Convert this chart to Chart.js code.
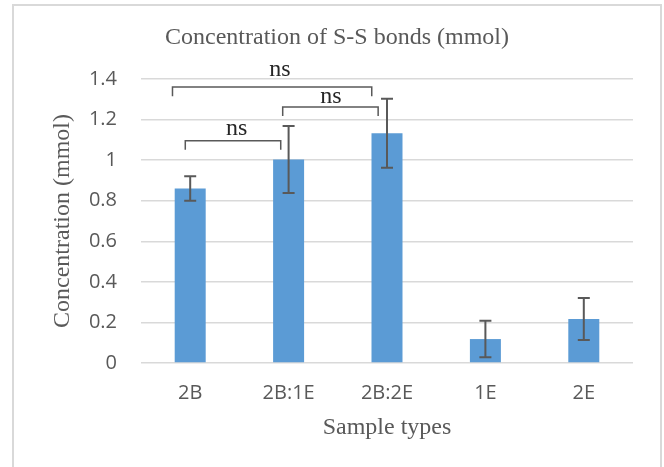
<!DOCTYPE html>
<html>
<head>
<meta charset="utf-8">
<title>Concentration of S-S bonds</title>
<script src="https://cdn.jsdelivr.net/npm/chart.js@4"></script>
<style>
  html, body { margin: 0; padding: 0; background: #fff; }
  body { width: 664px; height: 467px; overflow: hidden; position: relative; }
  #frame { position: absolute; left: 12px; top: 4px; width: 646px; height: 480px; border: 2px solid #d9d9d9; }
  #chart1 { position: absolute; left: 0; top: 0; }
</style>
</head>
<body>
<div id="frame">
  <canvas id="chart1" width="646" height="461"></canvas>
</div>
<script>
const sampleTypes = ['2B', '2B:1E', '2B:2E', '1E', '2E']
const concentration = [0.86, 1.003, 1.133, 0.118, 0.217]
const errorSize = [0.06, 0.165, 0.17, 0.09, 0.104]
const yTicks = [0, 0.2, 0.4, 0.6, 0.8, 1, 1.2, 1.4]

// significance brackets, in category index / value units
const bracketFrom = [0, 1, 0]
const bracketTo = [2, 2, 1]
const bracketFromShift = [-0.18, -0.06, -0.05]
const bracketToShift = [-0.155, -0.09, -0.08]
const bracketLevel = [1.36, 1.262, 1.096]
const bracketDrop = 0.045
const nsText = ['ns', 'ns', 'ns']
const nsX = [0.913, 1.431, 0.473]
const nsY = [1.416, 1.282, 1.125]

const grey = '#595959'
const serif = '"Liberation Serif", "Times New Roman", serif'
const sans = '"Open Sans", "Noto Sans", sans-serif'

const errorBars = {
  id: 'errorBars',
  afterDatasetsDraw(chart) {
    const { ctx, scales: { y } } = chart
    const bars = chart.getDatasetMeta(0).data
    ctx.save()
    ctx.strokeStyle = grey
    ctx.lineWidth = 2
    bars.forEach((bar, i) => {
      const top = y.getPixelForValue(concentration[i] + errorSize[i])
      const bottom = y.getPixelForValue(concentration[i] - errorSize[i])
      ctx.beginPath()
      ctx.moveTo(bar.x, top)
      ctx.lineTo(bar.x, bottom)
      ctx.moveTo(bar.x - 6, top)
      ctx.lineTo(bar.x + 6, top)
      ctx.moveTo(bar.x - 6, bottom)
      ctx.lineTo(bar.x + 6, bottom)
      ctx.stroke()
    })
    ctx.restore()
  }
}

const brackets = {
  id: 'brackets',
  afterDatasetsDraw(chart) {
    const { ctx, scales: { x, y } } = chart
    ctx.save()
    ctx.strokeStyle = grey
    ctx.lineWidth = 1.5
    bracketFrom.forEach((from, i) => {
      const x1 = x.getPixelForValue(from + bracketFromShift[i])
      const x2 = x.getPixelForValue(bracketTo[i] + bracketToShift[i])
      const yTop = y.getPixelForValue(bracketLevel[i])
      const yEnd = y.getPixelForValue(bracketLevel[i] - bracketDrop)
      ctx.beginPath()
      ctx.moveTo(x1, yEnd)
      ctx.lineTo(x1, yTop)
      ctx.lineTo(x2, yTop)
      ctx.lineTo(x2, yEnd)
      ctx.stroke()
    })
    ctx.fillStyle = '#262626'
    ctx.font = `24px ${serif}`
    ctx.textAlign = 'center'
    ctx.textBaseline = 'alphabetic'
    nsText.forEach((t, i) => {
      ctx.fillText(t, x.getPixelForValue(nsX[i]), y.getPixelForValue(nsY[i]))
    })
    ctx.restore()
  }
}

const ctx1 = document.getElementById('chart1')
new Chart(ctx1, {
  type: 'bar',
  data: {
    labels: sampleTypes,
    datasets: [{
      label: 'Concentration',
      data: concentration,
      backgroundColor: '#5b9bd5',
      borderWidth: 0,
      categoryPercentage: 1,
      barPercentage: 0.315
    }]
  },
  options: {
    responsive: false,
    animation: false,
    layout: { padding: 0 },
    plugins: {
      legend: { display: false },
      tooltip: { enabled: false },
      title: {
        display: true,
        text: 'Concentration of S-S bonds (mmol)',
        color: grey,
        font: { family: serif, size: 24, weight: 'normal' },
        padding: { top: 17.6, bottom: 26.6 }
      }
    },
    scales: {
      x: {
        grid: { display: false, drawTicks: false },
        border: { display: false },
        ticks: { color: grey, font: { family: sans, size: 20 }, padding: 18, maxRotation: 0 },
        title: {
          display: true,
          text: 'Sample types',
          color: grey,
          font: { family: serif, size: 24 },
          padding: { top: 0, bottom: 24.6 }
        },
        afterFit: (scale) => { scale.height = 104 }
      },
      y: {
        min: 0,
        max: 1.4,
        afterBuildTicks: (scale) => { scale.ticks = yTicks.map(v => ({ value: v })) },
        grid: { color: '#d9d9d9', lineWidth: 1.5, drawTicks: false },
        border: { display: false },
        ticks: {
          color: grey,
          font: { family: sans, size: 20 },
          padding: 24,
          callback: (v) => `${v}`
        },
        title: {
          display: true,
          text: 'Concentration (mmol)',
          color: grey,
          font: { family: serif, size: 24 },
          padding: { top: 34.6, bottom: 0 }
        },
        afterFit: (scale) => { scale.width = 127 }
      },
      // empty strip on the right of the plot, like the reference's unused space
      spacer: {
        type: 'linear',
        position: 'right',
        grid: { display: false, drawTicks: false },
        border: { display: false },
        ticks: { display: false },
        afterFit: (scale) => { scale.width = 27 }
      }
    }
  },
  plugins: [errorBars, brackets]
})
</script>
</body>
</html>
